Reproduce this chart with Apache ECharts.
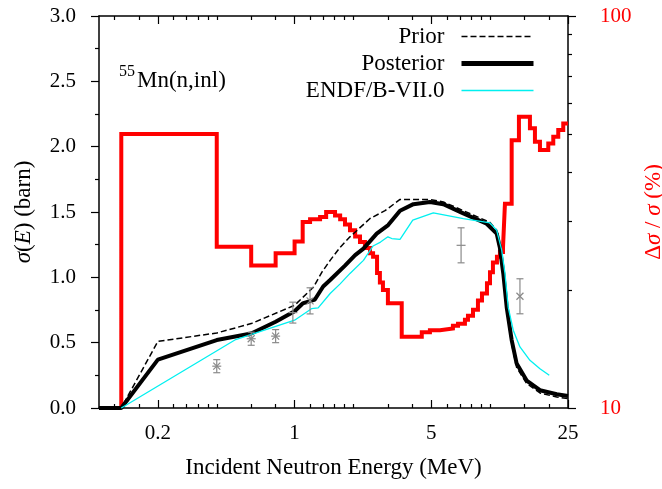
<!DOCTYPE html>
<html>
<head>
<meta charset="utf-8">
<script src="https://cdn.jsdelivr.net/npm/echarts@6/dist/echarts.min.js"></script>
<style>
  html, body { margin: 0; padding: 0; background: #fff; }
  #chart { width: 662px; height: 489px; }
</style>
</head>
<body>
<div id="chart"></div>
<script>
// energies in MeV, cross sections in barn, uncertainty in %
const priorE = [0.1, 0.13, 0.2, 0.4, 0.6, 1.0, 1.25, 1.38, 1.52, 1.71, 1.92, 2.43, 2.9, 3.46, 4.92, 5.76, 7.29, 9.98, 10.8, 11.2, 11.67, 12.15, 12.88, 13.66, 15.37, 17.97, 21.9, 25]
const priorSig = [0, 0, 0.51, 0.574, 0.646, 0.786, 0.926, 1.04, 1.13, 1.23, 1.31, 1.45, 1.51, 1.596, 1.596, 1.577, 1.51, 1.42, 1.36, 1.25, 1.02, 0.75, 0.49, 0.31, 0.187, 0.115, 0.084, 0.072]

const postE = [0.1, 0.13, 0.2, 0.4, 0.6, 0.8, 1.0, 1.1, 1.27, 1.4, 1.52, 1.81, 2.04, 2.25, 2.63, 3.01, 3.46, 4.05, 4.92, 5.76, 7.29, 9.6, 10.8, 11.2, 11.67, 12.15, 12.88, 13.66, 15.37, 17.97, 21.9, 25]
const postSig = [0, 0, 0.37, 0.52, 0.57, 0.66, 0.74, 0.80, 0.83, 0.93, 0.98, 1.09, 1.17, 1.22, 1.335, 1.40, 1.51, 1.56, 1.577, 1.56, 1.49, 1.41, 1.335, 1.23, 1.03, 0.77, 0.52, 0.34, 0.21, 0.136, 0.105, 0.092]

const endfE = [0.13, 0.5, 1.0, 1.22, 1.32, 1.52, 1.71, 1.92, 2.25, 2.52, 2.75, 3.0, 3.14, 3.46, 4.02, 5.12, 7.29, 9.98, 10.8, 11.45, 11.9, 12.37, 13.12, 14.2, 15.97, 17.97, 20.05]
const endfSig = [0, 0.524, 0.672, 0.76, 0.766, 0.876, 0.95, 1.03, 1.13, 1.24, 1.27, 1.31, 1.297, 1.29, 1.437, 1.493, 1.45, 1.417, 1.36, 1.21, 1.03, 0.77, 0.595, 0.467, 0.365, 0.30, 0.25]

const uncE = [0.13, 0.13, 0.4, 0.6, 0.8, 1.0, 1.1, 1.2, 1.35, 1.45, 1.61, 1.71, 1.81, 1.92, 2.04, 2.16, 2.29, 2.43, 2.52, 2.64, 2.73, 2.83, 3.0, 3.53, 4.47, 4.92, 5.54, 6.45, 6.85, 7.43, 7.7, 8.17, 8.66, 9.08, 9.63, 9.98, 10.33, 10.83, 11.22, 11.63, 11.9, 12.88, 14.03, 15.97, 16.94, 17.97, 19.82, 21.02, 22.29, 23.64, 25]
const uncPct = [10, 50, 25.8, 23.1, 24.8, 26.6, 29.8, 30.3, 30.7, 31.6, 31.0, 30.3, 29.4, 28.4, 27.4, 26.5, 25.6, 24.8, 24.3, 22.1, 20.9, 20.0, 18.5, 15.2, 15.6, 15.8, 15.95, 16.2, 16.4, 16.8, 17.2, 17.8, 18.8, 19.6, 20.8, 22.2, 23.5, 24.3, 25.0, 25.7, 33.2, 48.2, 55.3, 51.7, 47.8, 45.5, 47.3, 49.2, 51.2, 53.2, 53.2]

// experimental points: mark 0 = asterisk, 1 = plus, 2 = cross
const expE = [0.4, 0.6, 0.8, 0.98, 1.2, 7.1, 14.2]
const expSig = [0.32, 0.53, 0.55, 0.73, 0.82, 1.245, 0.855]
const expErr = [0.05, 0.05, 0.05, 0.08, 0.1, 0.134, 0.134]
const expMark = [0, 0, 0, 1, 2, 1, 2]

const xMajor = [0.2, 1, 5, 25]
const xMinor = [0.12, 0.16, 0.24, 0.28, 0.32, 0.36, 0.4, 0.6, 0.8, 1.2, 1.4, 1.6, 1.8, 2, 3, 4, 6, 7, 8, 9, 10, 15, 20]
const rMajor = [10, 100]
const rMinor = [20, 30, 40, 50, 60, 70, 80, 90]

const font = '"Liberation Serif", "Times New Roman", serif'
const zip = (a, b) => a.map((v, i) => [v, b[i]])

function renderExp (params, api) {
  const x = api.value(0)
  const y = api.value(1)
  const e = api.value(2)
  const m = api.value(3)
  const c = api.coord([x, y])
  const t = api.coord([x, y + e])
  const b = api.coord([x, y - e])
  const st = { stroke: '#8a8a8a', lineWidth: 1.2 }
  const seg = (x1, y1, x2, y2) => ({ type: 'line', shape: { x1, y1, x2, y2 }, style: st })
  const kids = [
    seg(c[0], t[1], c[0], b[1]),
    seg(c[0] - 3.5, t[1], c[0] + 3.5, t[1]),
    seg(c[0] - 3.5, b[1], c[0] + 3.5, b[1])
  ]
  const r = 3.5
  if (m !== 1) {
    kids.push(seg(c[0] - r, c[1] - r, c[0] + r, c[1] + r))
    kids.push(seg(c[0] - r, c[1] + r, c[0] + r, c[1] - r))
  }
  if (m !== 2) {
    kids.push(seg(c[0] - r - 1, c[1], c[0] + r + 1, c[1]))
  }
  return { type: 'group', children: kids }
}

function xAxisDef (pos, ticks, len, main) {
  return {
    type: 'log',
    logBase: 10,
    min: 0.1,
    max: 25,
    position: pos,
    axisLine: { show: main, onZero: false, lineStyle: { color: '#000', width: 1.5 } },
    axisTick: { show: true, inside: true, length: len, customValues: ticks, lineStyle: { color: '#000', width: 1.2 } },
    axisLabel: { show: false },
    splitLine: { show: false }
  }
}

const xAxes = [
  xAxisDef('bottom', xMajor, 8, true),
  xAxisDef('bottom', xMinor, 4, false),
  xAxisDef('top', xMajor, 8, true),
  xAxisDef('top', xMinor, 4, false)
]
xAxes[0].axisLabel = {
  show: true,
  customValues: xMajor,
  formatter: v => String(+Number(v).toPrecision(3)),
  margin: 15,
  color: '#000',
  fontFamily: font,
  fontSize: 21
}
xAxes[0].name = 'Incident Neutron Energy (MeV)'
xAxes[0].nameLocation = 'middle'
xAxes[0].nameGap = 48
xAxes[0].nameTextStyle = { color: '#000', fontFamily: font, fontSize: 23 }

const noMark = { opacity: 0 }

const chart = echarts.init(document.getElementById('chart'))
chart.setOption({
  animation: false,
  backgroundColor: '#fff',
  grid: { left: 99, top: 16, width: 469, height: 392, containLabel: false, outerBoundsMode: 'none' },
  xAxis: xAxes,
  yAxis: [{
    type: 'value',
    min: 0,
    max: 3,
    interval: 0.5,
    position: 'left',
    axisLine: { show: true, onZero: false, lineStyle: { color: '#000', width: 1.5 } },
    axisTick: { show: true, inside: false, length: 8, lineStyle: { color: '#000', width: 1.2 } },
    minorTick: { show: true, splitNumber: 2, length: 4, lineStyle: { color: '#000', width: 1.2 } },
    axisLabel: { formatter: v => v.toFixed(1), margin: 23, color: '#000', fontFamily: font, fontSize: 21 },
    splitLine: { show: false },
    name: '{i|σ}{n|(}{i|E}{n|) (barn)}',
    nameLocation: 'middle',
    nameGap: 64,
    nameTextStyle: {
      rich: {
        i: { fontFamily: font, fontSize: 23, fontStyle: 'italic', color: '#000' },
        n: { fontFamily: font, fontSize: 23, color: '#000' }
      }
    }
  }, {
    type: 'log',
    logBase: 10,
    min: 10,
    max: 100,
    position: 'right',
    axisLine: { show: true, onZero: false, lineStyle: { color: '#000', width: 1.5 } },
    axisTick: { show: true, inside: false, length: 8, customValues: rMajor, lineStyle: { color: '#000', width: 1.2 } },
    axisLabel: { customValues: rMajor, formatter: v => String(Math.round(v)), margin: 32, color: '#ff0000', fontFamily: font, fontSize: 21 },
    splitLine: { show: false },
    name: '{n|Δ}{i|σ}{n| / }{i|σ}{n| (%)}',
    nameLocation: 'middle',
    nameGap: 62,
    nameTextStyle: {
      rich: {
        i: { fontFamily: font, fontSize: 23, fontStyle: 'italic', color: '#ff0000' },
        n: { fontFamily: font, fontSize: 23, color: '#ff0000' }
      }
    }
  }, {
    type: 'log',
    logBase: 10,
    min: 10,
    max: 100,
    position: 'right',
    axisLine: { show: false, onZero: false },
    axisTick: { show: true, inside: false, length: 4, customValues: rMinor, lineStyle: { color: '#000', width: 1.2 } },
    axisLabel: { show: false },
    splitLine: { show: false }
  }],
  legend: {
    orient: 'vertical',
    right: 126,
    top: 25,
    padding: 0,
    align: 'right',
    itemWidth: 72,
    itemHeight: 14,
    itemGap: 4,
    selectedMode: false,
    textStyle: { color: '#000', fontFamily: font, fontSize: 23, lineHeight: 23, padding: [0, 12, 0, 0] },
    data: [
      { name: 'Prior', itemStyle: noMark, lineStyle: { color: '#000', width: 1.5, type: [6, 3] } },
      { name: 'Posterior', itemStyle: noMark, lineStyle: { color: '#000', width: 5 } },
      { name: 'ENDF/B-VII.0', itemStyle: noMark, lineStyle: { color: '#00f0f0', width: 1.3 } }
    ]
  },
  graphic: [
    { type: 'text', left: 119, top: 64, style: { text: '55', fill: '#000', font: '16px ' + font } },
    { type: 'text', left: 137, top: 69, style: { text: 'Mn(n,inl)', fill: '#000', font: '23px ' + font } }
  ],
  series: [{
    name: 'uncertainty',
    type: 'line',
    xAxisIndex: 0,
    yAxisIndex: 1,
    step: 'end',
    symbol: 'none',
    clip: false,
    data: zip(uncE, uncPct),
    itemStyle: { color: '#ff0000' },
    lineStyle: { color: '#ff0000', width: 4, join: 'miter' },
    z: 2
  }, {
    name: 'Prior',
    type: 'line',
    xAxisIndex: 0,
    yAxisIndex: 0,
    symbol: 'none',
    clip: false,
    data: zip(priorE, priorSig),
    itemStyle: { color: '#000' },
    lineStyle: { color: '#000', width: 1.5, type: [6, 3] },
    z: 3
  }, {
    name: 'Posterior',
    type: 'line',
    xAxisIndex: 0,
    yAxisIndex: 0,
    symbol: 'none',
    clip: false,
    data: zip(postE, postSig),
    itemStyle: { color: '#000' },
    lineStyle: { color: '#000', width: 4 },
    z: 4
  }, {
    name: 'ENDF/B-VII.0',
    type: 'line',
    xAxisIndex: 0,
    yAxisIndex: 0,
    symbol: 'none',
    clip: false,
    data: zip(endfE, endfSig),
    itemStyle: { color: '#00f0f0' },
    lineStyle: { color: '#00f0f0', width: 1.3 },
    z: 5
  }, {
    name: 'experiment',
    type: 'custom',
    xAxisIndex: 0,
    yAxisIndex: 0,
    renderItem: renderExp,
    data: expE.map((v, i) => [v, expSig[i], expErr[i], expMark[i]]),
    z: 6
  }]
})
</script>
</body>
</html>
